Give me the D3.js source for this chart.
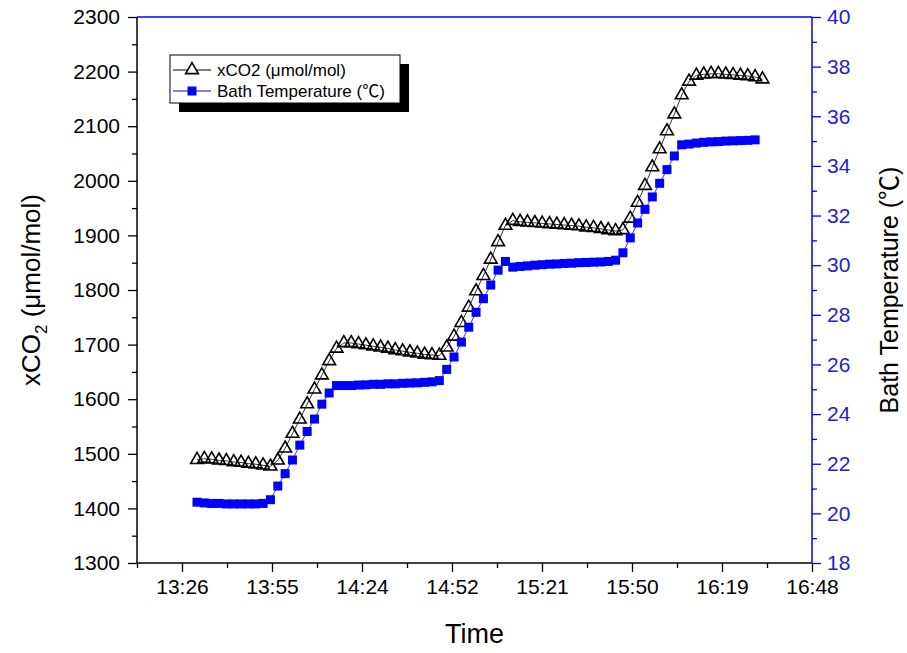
<!DOCTYPE html>
<html>
<head>
<meta charset="utf-8">
<script src="https://cdn.jsdelivr.net/npm/d3@7"></script>
<style>
  body { margin: 0; background: #fff; }
  text { font-family: Arial, "Liberation Sans", sans-serif; }
  .cjk { font-family: "Noto Sans CJK SC", sans-serif; }
</style>
</head>
<body>
<svg></svg>
<script>
// sample times (hh:mm:ss), one reading every ~2.35 min
const TIMES = [
  "13:31:12", "13:33:33", "13:35:54", "13:38:15", "13:40:36", "13:42:57", "13:45:18", "13:47:39",
  "13:50:00", "13:52:21", "13:54:42", "13:57:03", "13:59:24", "14:01:45", "14:04:06", "14:06:27",
  "14:08:48", "14:11:09", "14:13:30", "14:15:51", "14:18:12", "14:20:33", "14:22:54", "14:25:15",
  "14:27:36", "14:29:57", "14:32:18", "14:34:39", "14:37:00", "14:39:21", "14:41:42", "14:44:03",
  "14:46:24", "14:48:45", "14:51:06", "14:53:27", "14:55:48", "14:58:09", "15:00:30", "15:02:51",
  "15:05:12", "15:07:33", "15:09:54", "15:12:15", "15:14:36", "15:16:57", "15:19:18", "15:21:39",
  "15:24:00", "15:26:21", "15:28:42", "15:31:03", "15:33:24", "15:35:45", "15:38:06", "15:40:27",
  "15:42:48", "15:45:09", "15:47:30", "15:49:51", "15:52:12", "15:54:33", "15:56:54", "15:59:15",
  "16:01:36", "16:03:57", "16:06:18", "16:08:39", "16:11:00", "16:13:21", "16:15:42", "16:18:03",
  "16:20:24", "16:22:45", "16:25:06", "16:27:27", "16:29:48", "16:32:09"
];

// xCO2 (umol/mol)
const XCO2 = [
  1489, 1491, 1490, 1488, 1487, 1485, 1484, 1482, 1481, 1479,
  1477, 1488, 1510, 1537, 1563, 1591, 1618, 1644, 1670, 1693,
  1703, 1703, 1701, 1699, 1697, 1695, 1693, 1690, 1688, 1686,
  1684, 1682, 1681, 1680, 1695, 1715, 1740, 1768, 1798, 1826,
  1856, 1888, 1918, 1927, 1925, 1924, 1923, 1922, 1921, 1920,
  1919, 1918, 1917, 1915, 1914, 1912, 1910, 1908, 1910, 1931,
  1960, 1991, 2025, 2058, 2091, 2122, 2157, 2182, 2193, 2195,
  2196, 2196, 2195, 2194, 2193, 2192, 2190, 2186
];

// bath temperature (degC)
const BATH_TEMP = [
  20.45, 20.42, 20.40, 20.40, 20.38, 20.38, 20.38, 20.38, 20.38, 20.40,
  20.55, 21.10, 21.60, 22.15, 22.75, 23.30, 23.80, 24.40, 24.85, 25.15,
  25.15, 25.15, 25.17, 25.18, 25.20, 25.20, 25.22, 25.22, 25.24, 25.25,
  25.26, 25.28, 25.30, 25.35, 25.80, 26.30, 26.90, 27.50, 28.10, 28.65,
  29.20, 29.80, 30.15, 29.92, 29.95, 29.97, 30.00, 30.02, 30.04, 30.05,
  30.07, 30.08, 30.10, 30.11, 30.12, 30.13, 30.15, 30.20, 30.50, 31.10,
  31.70, 32.25, 32.75, 33.30, 33.85, 34.40, 34.85, 34.88, 34.92, 34.95,
  34.97, 34.98, 35.00, 35.01, 35.02, 35.03, 35.05
];

const X_DOMAIN = ["13:12:00", "16:48:00"];
const X_TICKS = ["13:26:24", "13:55:12", "14:24:00", "14:52:48", "15:21:36", "15:50:24", "16:19:12", "16:48:00"];
const LEFT_TICKS = [1300, 1400, 1500, 1600, 1700, 1800, 1900, 2000, 2100, 2200, 2300];
const RIGHT_TICKS = [18, 20, 22, 24, 26, 28, 30, 32, 34, 36, 38, 40];

const WIDTH = 907;
const HEIGHT = 653;
const M = { left: 137, right: 812, top: 17, bottom: 563 };
const BLUE = "#0000ff";

function toSec(s) {
  const p = s.split(":").map(Number);
  return p[0] * 3600 + p[1] * 60 + (p[2] || 0);
}
function fmtTime(sec) {
  const h = Math.floor(sec / 3600);
  const m = Math.floor((sec % 3600) / 60);
  return h + ":" + String(m).padStart(2, "0");
}

const svg = d3.select("svg").attr("width", WIDTH).attr("height", HEIGHT);

const x = d3.scaleLinear().domain(X_DOMAIN.map(toSec)).range([M.left, M.right]);
const yL = d3.scaleLinear().domain([1300, 2300]).range([M.bottom, M.top]);
const yR = d3.scaleLinear().domain([18, 40]).range([M.bottom, M.top]);

const majX = X_TICKS.map(toSec);
const minX = majX.map(t => t - (majX[1] - majX[0]) / 2);

function styleAxis(g, color) {
  g.select(".domain").remove();
  g.selectAll("line").attr("stroke", color).attr("stroke-width", 1.3);
  g.selectAll("text").attr("fill", color).style("font-size", "21px");
}

// bottom axis
svg.append("g").attr("transform", `translate(0,${M.bottom})`)
  .call(d3.axisBottom(x).tickValues(majX).tickFormat(fmtTime).tickSize(9).tickPadding(7))
  .call(g => styleAxis(g, "#000"));
svg.append("g").attr("transform", `translate(0,${M.bottom})`)
  .call(d3.axisBottom(x).tickValues(minX).tickFormat("").tickSize(5))
  .call(g => styleAxis(g, "#000"));

// left axis
svg.append("g").attr("transform", `translate(${M.left},0)`)
  .call(d3.axisLeft(yL).tickValues(LEFT_TICKS).tickFormat(d3.format("d")).tickSize(9).tickPadding(8))
  .call(g => styleAxis(g, "#000"));
svg.append("g").attr("transform", `translate(${M.left},0)`)
  .call(d3.axisLeft(yL).tickValues(LEFT_TICKS.slice(1).map(v => v - 50)).tickFormat("").tickSize(5))
  .call(g => styleAxis(g, "#000"));

// right axis
svg.append("g").attr("transform", `translate(${M.right},0)`)
  .call(d3.axisRight(yR).tickValues(RIGHT_TICKS).tickFormat(d3.format("d")).tickSize(9).tickPadding(6))
  .call(g => styleAxis(g, BLUE))
  .selectAll("text").attr("fill", "#2222cc");
svg.append("g").attr("transform", `translate(${M.right},0)`)
  .call(d3.axisRight(yR).tickValues(RIGHT_TICKS.slice(1).map(v => v - 1)).tickFormat("").tickSize(5))
  .call(g => styleAxis(g, BLUE));

// frame lines
svg.append("line").attr("x1", M.left).attr("x2", M.right).attr("y1", M.bottom).attr("y2", M.bottom)
  .attr("stroke", "#000").attr("stroke-width", 1.5);
svg.append("line").attr("x1", M.left).attr("x2", M.left).attr("y1", M.top).attr("y2", M.bottom)
  .attr("stroke", "#000").attr("stroke-width", 1.5);
svg.append("line").attr("x1", M.left).attr("x2", M.right).attr("y1", M.top).attr("y2", M.top)
  .attr("stroke", BLUE).attr("stroke-width", 1.5);
svg.append("line").attr("x1", M.right).attr("x2", M.right).attr("y1", M.top).attr("y2", M.bottom)
  .attr("stroke", BLUE).attr("stroke-width", 1.5);

// series
const co2Data = XCO2.map((v, i) => ({ t: toSec(TIMES[i]), v }));
const tempData = BATH_TEMP.map((v, i) => ({ t: toSec(TIMES[i]), v }));

svg.append("path").datum(co2Data)
  .attr("fill", "none").attr("stroke", "#000").attr("stroke-width", 0.8)
  .attr("d", d3.line().x(d => x(d.t)).y(d => yL(d.v)));

const tri = d3.symbol(d3.symbolTriangle, 70);
svg.append("g").selectAll("path").data(co2Data).enter().append("path")
  .attr("d", tri)
  .attr("transform", d => `translate(${x(d.t)},${yL(d.v)})`)
  .attr("fill", "none").attr("stroke", "#000").attr("stroke-width", 1.6);

svg.append("path").datum(tempData)
  .attr("fill", "none").attr("stroke", BLUE).attr("stroke-width", 0.8)
  .attr("d", d3.line().x(d => x(d.t)).y(d => yR(d.v)));

const SQ = 9;
svg.append("g").selectAll("rect").data(tempData).enter().append("rect")
  .attr("x", d => x(d.t) - SQ / 2).attr("y", d => yR(d.v) - SQ / 2)
  .attr("width", SQ).attr("height", SQ).attr("fill", BLUE);

// axis titles
svg.append("text").attr("x", (M.left + M.right) / 2).attr("y", 643)
  .attr("text-anchor", "middle").style("font-size", "27px").text("Time");

const lt = svg.append("text").attr("transform", `translate(40,${(M.top + M.bottom) / 2}) rotate(-90)`)
  .attr("text-anchor", "middle").style("font-size", "26px");
lt.append("tspan").text("xCO");
lt.append("tspan").attr("dy", 7).style("font-size", "17px").text("2");
lt.append("tspan").attr("dy", -7).text(" (μmol/mol)");

const rt = svg.append("text").attr("transform", `translate(898,${(M.top + M.bottom) / 2}) rotate(-90)`)
  .attr("text-anchor", "middle").style("font-size", "25px");
rt.append("tspan").text("Bath Temperature (");
rt.append("tspan").attr("class", "cjk").text("℃");
rt.append("tspan").text(")");

// legend
const lg = svg.append("g");
lg.append("rect").attr("x", 179).attr("y", 64).attr("width", 230).attr("height", 48).attr("fill", "#000");
lg.append("rect").attr("x", 170).attr("y", 55).attr("width", 230).attr("height", 48)
  .attr("fill", "#fff").attr("stroke", "#000").attr("stroke-width", 1);
lg.append("line").attr("x1", 173).attr("x2", 211).attr("y1", 70).attr("y2", 70).attr("stroke", "#000");
lg.append("path").attr("d", tri).attr("transform", "translate(192,70)")
  .attr("fill", "#fff").attr("stroke", "#000").attr("stroke-width", 1.6);
lg.append("text").attr("x", 217).attr("y", 76).style("font-size", "17px").text("xCO2 (μmol/mol)");
lg.append("line").attr("x1", 173).attr("x2", 211).attr("y1", 91).attr("y2", 91).attr("stroke", BLUE);
lg.append("rect").attr("x", 192 - SQ / 2).attr("y", 91 - SQ / 2).attr("width", SQ).attr("height", SQ).attr("fill", BLUE);
const lt2 = lg.append("text").attr("x", 217).attr("y", 97).style("font-size", "17px");
lt2.append("tspan").text("Bath Temperature (");
lt2.append("tspan").attr("class", "cjk").text("℃");
lt2.append("tspan").text(")");
</script>
</body>
</html>
